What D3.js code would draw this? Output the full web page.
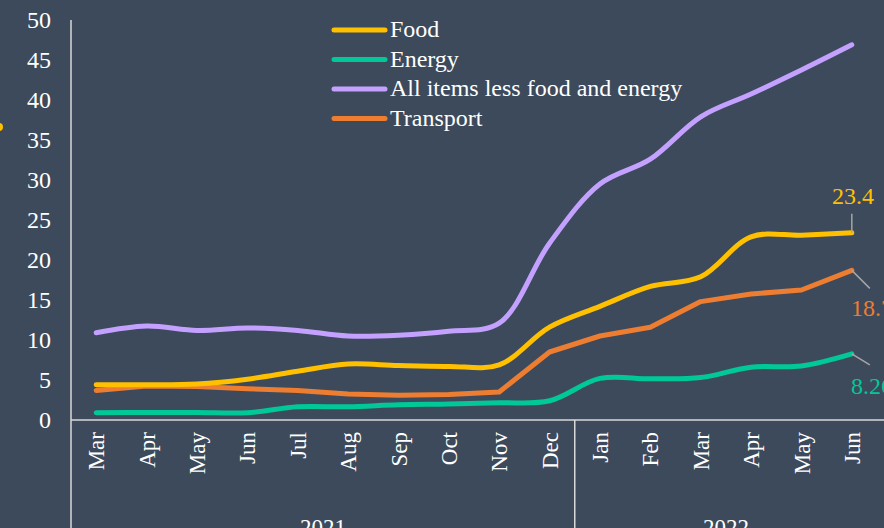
<!DOCTYPE html>
<html>
<head>
<meta charset="utf-8">
<script src="https://cdn.jsdelivr.net/npm/d3@7"></script>
<style>
    body { margin: 0; background: #3c4a5c; }
    svg { display: block; font-family: "Liberation Serif", "Times New Roman", serif; }
</style>
</head>
<body>
<svg id="chart" width="884" height="528"></svg>
<script>
"use strict"

// Data
var months = ["Mar", "Apr", "May", "Jun", "Jul", "Aug", "Sep", "Oct", "Nov", "Dec",
              "Jan", "Feb", "Mar", "Apr", "May", "Jun"];
var years = [{"label": "2021", "from": 0, "to": 9}, {"label": "2022", "from": 10, "to": 15}];
var yTicks = [0, 5, 10, 15, 20, 25, 30, 35, 40, 45, 50];

var food      = [4.4, 4.4, 4.5, 5.1, 6.1, 7.0, 6.8, 6.7, 6.9, 11.6, 14.2, 16.7, 17.9, 22.9, 23.1, 23.4];
var energy    = [0.9, 0.95, 0.95, 0.9, 1.65, 1.65, 1.9, 2.0, 2.15, 2.4, 5.2, 5.15, 5.3, 6.6, 6.75, 8.26];
var allItems  = [10.9, 11.75, 11.2, 11.5, 11.2, 10.5, 10.6, 11.1, 12.1, 22.1, 29.5, 32.6, 37.9, 40.75, 43.75, 46.9];
var transport = [3.7, 4.25, 4.2, 3.9, 3.7, 3.25, 3.1, 3.2, 3.5, 8.5, 10.5, 11.6, 14.8, 15.75, 16.25, 18.7];

var series = [
    {"name": "Food", "values": food, "color": "#ffc000", "smooth": true, "label": "23.4"},
    {"name": "Energy", "values": energy, "color": "#00c896", "smooth": true, "label": "8.26"},
    {"name": "All items less food and energy", "values": allItems, "color": "#c4a0ff", "smooth": true, "label": null},
    {"name": "Transport", "values": transport, "color": "#ed7d31", "smooth": false, "label": "18.7"}
];

var svg = d3.select("#chart");
var axisColor = "#d9d9d9";

var x = d3.scaleBand()
    .domain(d3.range(months.length))
    .range([71, 877]);

var y = d3.scaleLinear()
    .domain([0, 50])
    .range([420, 20]);

function cx(i) {
    return x(i) + x.bandwidth() / 2;
}

// Y axis labels
svg.append("g")
    .selectAll("text")
    .data(yTicks)
    .enter()
    .append("text")
    .attr("x", 51)
    .attr("y", function (d) { return y(d); })
    .attr("dy", "0.35em")
    .attr("text-anchor", "end")
    .attr("fill", "#ffffff")
    .style("font-size", "24px")
    .text(function (d) { return d; });

// cut off marker at the left edge
svg.append("circle")
    .attr("cx", -1)
    .attr("cy", 127)
    .attr("r", 4)
    .attr("fill", "#ffc000");

// Axis lines
svg.append("line")
    .attr("x1", 71).attr("x2", 71)
    .attr("y1", y(50)).attr("y2", 528)
    .attr("stroke", axisColor)
    .attr("stroke-width", 1.5);

svg.append("line")
    .attr("x1", 71).attr("x2", 884)
    .attr("y1", y(0)).attr("y2", y(0))
    .attr("stroke", axisColor)
    .attr("stroke-width", 1.5);

// year dividers
svg.append("g")
    .selectAll("line")
    .data(years.slice(1))
    .enter()
    .append("line")
    .attr("x1", function (d) { return x(d.from); })
    .attr("x2", function (d) { return x(d.from); })
    .attr("y1", y(0))
    .attr("y2", 528)
    .attr("stroke", axisColor)
    .attr("stroke-width", 1.5);

// Month labels (rotated)
svg.append("g")
    .selectAll("text")
    .data(months)
    .enter()
    .append("text")
    .attr("transform", function (d, i) {
        return "translate(" + cx(i) + "," + 432 + ") rotate(-90)";
    })
    .attr("dy", "0.35em")
    .attr("text-anchor", "end")
    .attr("fill", "#ffffff")
    .style("font-size", "23px")
    .text(function (d) { return d; });

// Year labels
svg.append("g")
    .selectAll("text")
    .data(years)
    .enter()
    .append("text")
    .attr("x", function (d) { return (x(d.from) + x(d.to) + x.bandwidth()) / 2; })
    .attr("y", 535)
    .attr("text-anchor", "middle")
    .attr("fill", "#ffffff")
    .style("font-size", "23px")
    .text(function (d) { return d.label; });

// Lines
var smoothLine = d3.line()
    .x(function (d, i) { return cx(i); })
    .y(function (d) { return y(d); })
    .curve(d3.curveCatmullRom.alpha(0.5));

var straightLine = d3.line()
    .x(function (d, i) { return cx(i); })
    .y(function (d) { return y(d); });

// draw transport first, then food, energy, all items
var drawOrder = [series[3], series[2], series[0], series[1]];

svg.append("g")
    .selectAll("path")
    .data(drawOrder)
    .enter()
    .append("path")
    .attr("class", "line")
    .attr("d", function (d) {
        return d.smooth ? smoothLine(d.values) : straightLine(d.values);
    })
    .attr("fill", "none")
    .attr("stroke", function (d) { return d.color; })
    .attr("stroke-width", 5)
    .attr("stroke-linecap", "round")
    .attr("stroke-linejoin", "round");

// Data labels with leader lines
var last = months.length - 1;
var labels = [
    {"s": series[0], "dx1": 0, "dy1": -19, "tx": 853, "ty": 196, "anchor": "middle"},
    {"s": series[3], "dx1": 18, "dy1": 18, "tx": 851, "ty": 308, "anchor": "start"},
    {"s": series[1], "dx1": 18, "dy1": 11, "tx": 851, "ty": 386, "anchor": "start"}
];

var lbl = svg.append("g");

lbl.selectAll("line")
    .data(labels)
    .enter()
    .append("line")
    .attr("x1", cx(last))
    .attr("y1", function (d) { return y(d.s.values[last]); })
    .attr("x2", function (d) { return cx(last) + d.dx1; })
    .attr("y2", function (d) { return y(d.s.values[last]) + d.dy1; })
    .attr("stroke", "#a6a6a6")
    .attr("stroke-width", 1.5);

lbl.selectAll("text")
    .data(labels)
    .enter()
    .append("text")
    .attr("x", function (d) { return d.tx; })
    .attr("y", function (d) { return d.ty; })
    .attr("dy", "0.35em")
    .attr("text-anchor", function (d) { return d.anchor; })
    .attr("fill", function (d) { return d.s.color; })
    .style("font-size", "24px")
    .text(function (d) { return d.s.label; });

// Legend
var legend = svg.append("g")
    .attr("class", "legend");

legend.selectAll("line")
    .data(series)
    .enter()
    .append("line")
    .attr("x1", 334)
    .attr("x2", 385)
    .attr("y1", function (d, i) { return 30 + i * 29.5; })
    .attr("y2", function (d, i) { return 30 + i * 29.5; })
    .attr("stroke", function (d) { return d.color; })
    .attr("stroke-width", 5)
    .attr("stroke-linecap", "round");

legend.selectAll("text")
    .data(series)
    .enter()
    .append("text")
    .attr("x", 390)
    .attr("y", function (d, i) { return 29 + i * 29.5; })
    .attr("dy", "0.35em")
    .attr("fill", "#ffffff")
    .style("font-size", "24px")
    .text(function (d) { return d.name; });
</script>
</body>
</html>
